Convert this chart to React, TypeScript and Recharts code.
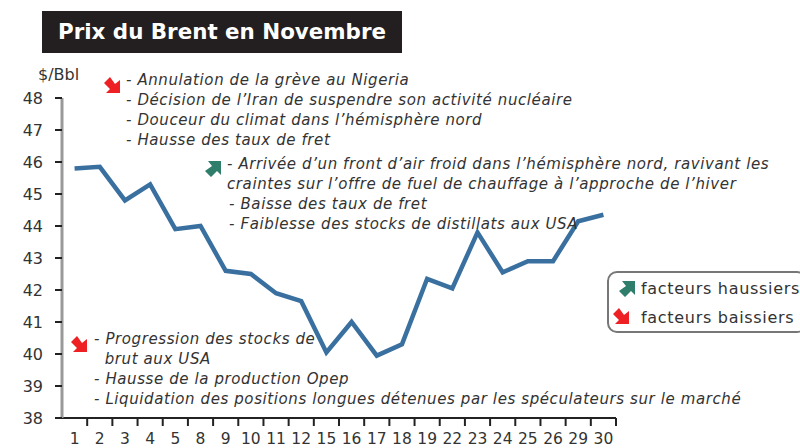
import { LineChart, Line, XAxis, YAxis } from 'recharts'

const days = ['1', '2', '3', '4', '5', '8', '9', '10', '11', '12', '15', '16', '17', '18', '19', '22', '23', '24', '25', '26', '29', '30']
const brent = [45.8, 45.85, 44.8, 45.3, 43.9, 44.0, 42.6, 42.5, 41.9, 41.65, 40.05, 41.0, 39.95, 40.3, 42.35, 42.05, 43.8, 42.55, 42.9, 42.9, 44.15, 44.35]
const yTicks = [38, 39, 40, 41, 42, 43, 44, 45, 46, 47, 48]
const data = days.map((day, i) => ({ day, brent: brent[i] }))

const noteFont = 'Verdana, "DejaVu Sans", sans-serif'

const topNotes = [
  '- Annulation de la grève au Nigeria',
  '- Décision de l’Iran de suspendre son activité nucléaire',
  '- Douceur du climat dans l’hémisphère nord',
  '- Hausse des taux de fret',
]
const midNotes = [
  '- Arrivée d’un front d’air froid dans l’hémisphère nord, ravivant les',
  'craintes sur l’offre de fuel de chauffage à l’approche de l’hiver',
  '\u200A- Baisse des taux de fret',
  '\u200A- Faiblesse des stocks de distillats aux USA',
]
const lowNotes = [
  '- Progression des stocks de',
  '  brut aux USA',
  '- Hausse de la production Opep',
  '- Liquidation des positions longues détenues par les spéculateurs sur le marché',
]

function Note({ lines, left, top }: { lines: string[]; left: number; top: number }) {
  return (
    <div style={{ position: 'absolute', left, top, fontFamily: noteFont, fontStyle: 'italic', fontSize: 15, letterSpacing: 0.6, lineHeight: '20px', color: '#333', whiteSpace: 'pre' }}>
      {lines.map((l) => <div key={l}>{l}</div>)}
    </div>
  )
}

function Arrow({ up, left, top }: { up?: boolean; left: number; top: number }) {
  return (
    <svg width={18} height={18} viewBox="0 0 18 18" style={{ position: 'absolute', left, top }}>
      <g transform={up ? undefined : 'rotate(90 9 9)'}>
        <path d="M4 1 L17 1 L17 15 L13 11 L7 17 L1 11 L8 6 Z" fill={up ? '#2f7d6b' : '#ee2024'} />
      </g>
    </svg>
  )
}

function DayTick({ x, y, payload }: any) {
  const step = 25.2
  return (
    <g>
      <line x1={x + step / 2} x2={x + step / 2} y1={y - 8} y2={y} stroke="#222" strokeWidth={2} />
      <text x={x} y={y + 18} textAnchor="middle" fontFamily={noteFont} fontSize={15.5} fill="#333">{payload.value}</text>
    </g>
  )
}

export default function App() {
  return (
    <div style={{ position: 'fixed', left: 0, top: 0, width: 800, height: 448, overflow: 'hidden', background: '#fff' }}>
      <LineChart width={800} height={448} data={data} margin={{ top: 98, right: 184, bottom: 0, left: 0 }}>
        <XAxis dataKey="day" scale="band" interval={0} tick={DayTick} tickLine={false} axisLine={{ stroke: '#222', strokeWidth: 2 }} height={30} />
        <YAxis
          domain={[38, 48]}
          ticks={yTicks}
          interval={0}
          width={62}
          tickSize={7}
          tickMargin={12}
          tick={{ fontFamily: noteFont, fontSize: 16, fill: '#333' }}
          tickLine={{ stroke: '#222', strokeWidth: 2 }}
          axisLine={{ stroke: '#999', strokeWidth: 3 }}
        />
        <Line dataKey="brent" type="linear" stroke="#3a709f" strokeWidth={4.5} dot={false} isAnimationActive={false} />
      </LineChart>

      <div style={{ position: 'absolute', left: 42, top: 11, width: 360, height: 42, background: '#231f20', color: '#fff', fontFamily: noteFont, fontWeight: 700, fontSize: 21.4, lineHeight: '42px', textAlign: 'center' }}>
        Prix du Brent en Novembre
      </div>
      <div style={{ position: 'absolute', left: 38, top: 65, fontFamily: noteFont, fontSize: 16, color: '#333' }}>$/Bbl</div>

      <Arrow left={103} top={76} />
      <Note lines={topNotes} left={126} top={70} />
      <Arrow up left={204} top={160} />
      <Note lines={midNotes} left={227} top={154} />
      <Arrow left={70} top={335} />
      <Note lines={lowNotes} left={94} top={329} />

      <div style={{ position: 'absolute', left: 607, top: 271, width: 200, height: 62, border: '2px solid #777', borderRadius: 10, background: '#fff', boxSizing: 'border-box' }} />
      <Arrow up left={618} top={280} />
      <Arrow left={612} top={307} />
      <div style={{ position: 'absolute', left: 641, top: 274, fontFamily: noteFont, fontSize: 16, letterSpacing: 0.7, lineHeight: '29px', color: '#333', whiteSpace: 'pre' }}>
        <div>facteurs haussiers</div>
        <div>facteurs baissiers</div>
      </div>
    </div>
  )
}
